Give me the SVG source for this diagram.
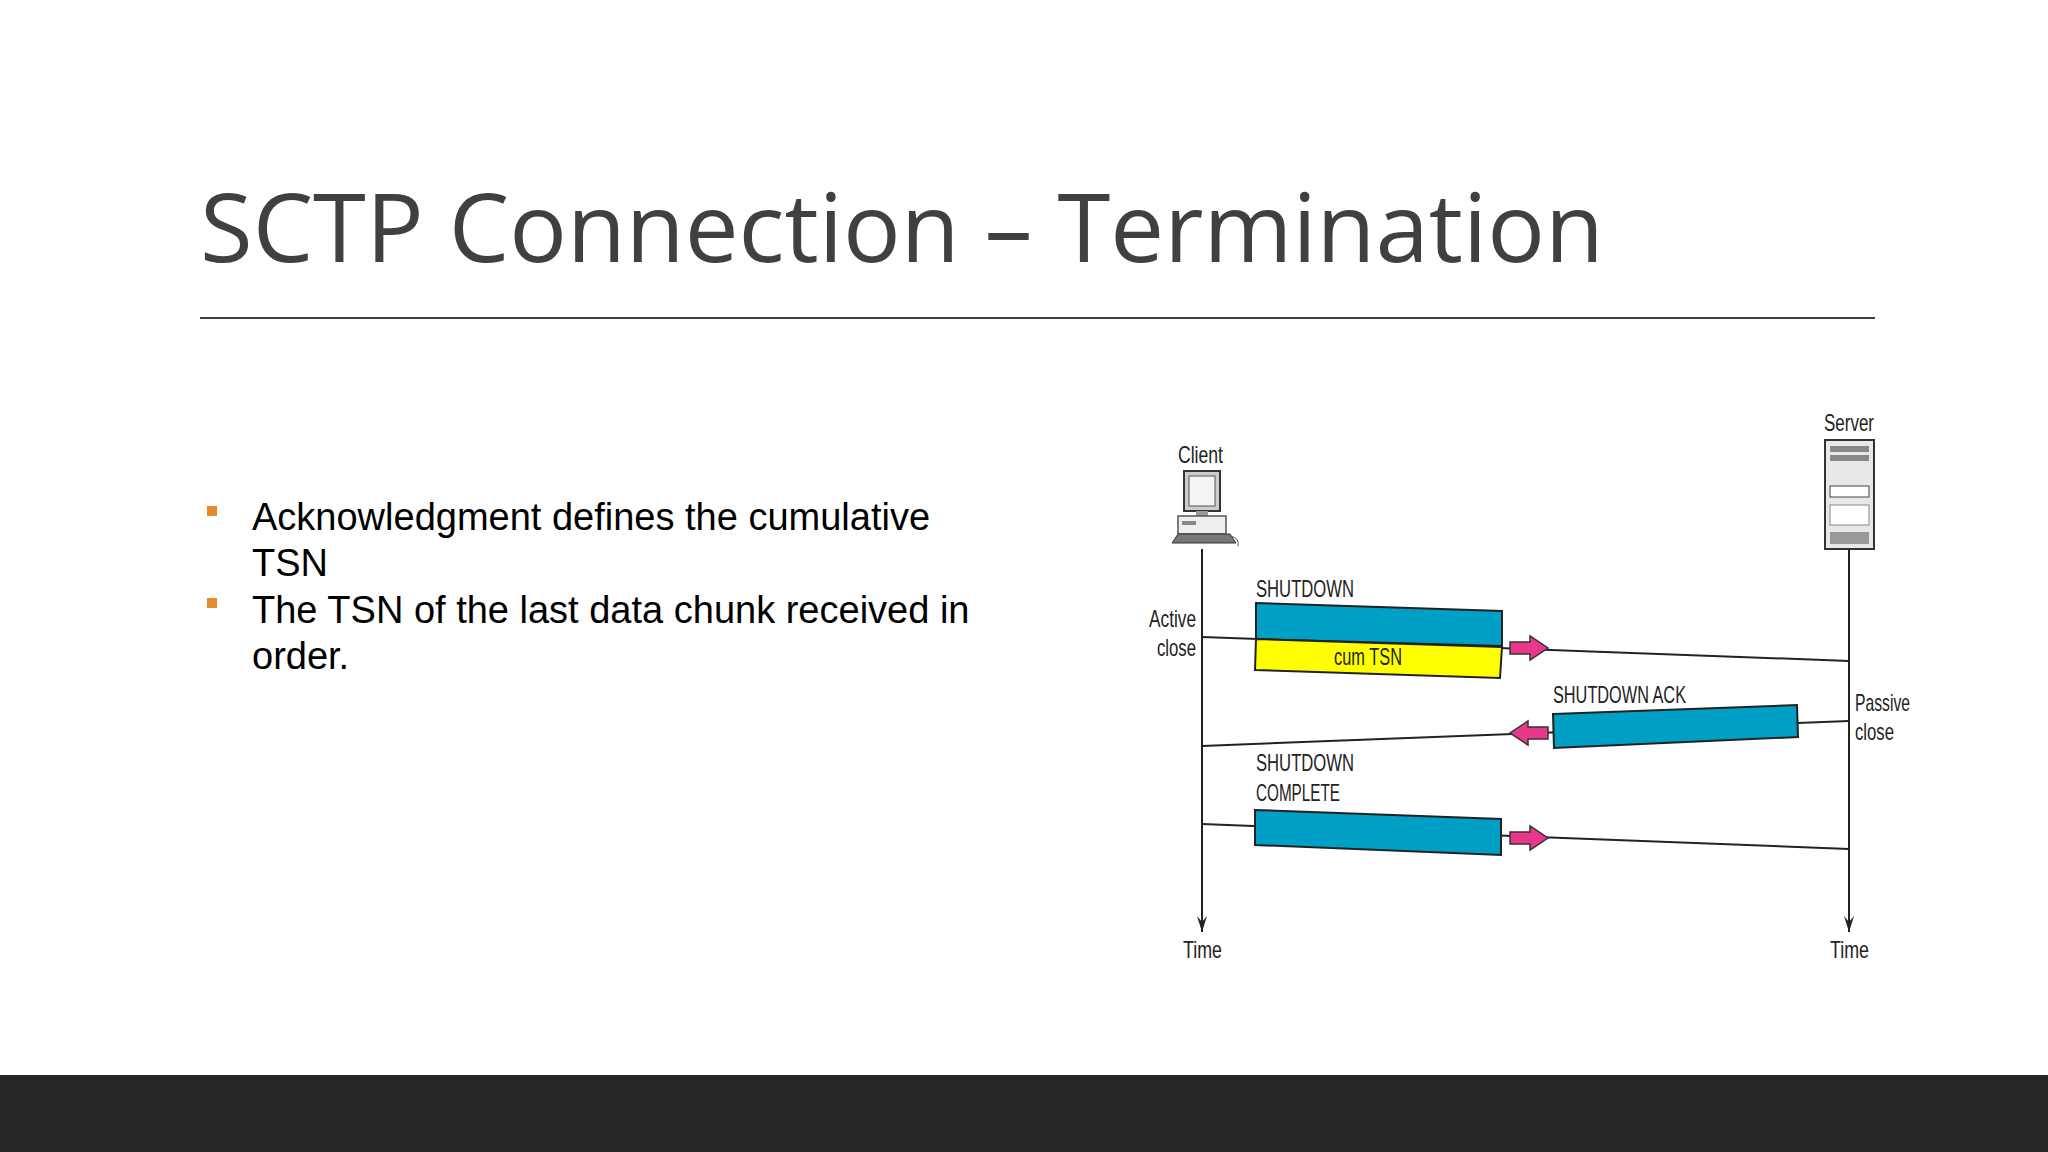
<svg xmlns="http://www.w3.org/2000/svg" width="2048" height="1152" viewBox="0 0 2048 1152">
<defs>
<style>
.t{font-family:"Liberation Sans",Arial,sans-serif;font-size:24px;fill:#222}
.b{font-family:"Liberation Sans",Arial,sans-serif;font-size:38px;fill:#000}
.ln{stroke:#222;stroke-width:2;fill:none}
.box{fill:#00a0c6;stroke:#222;stroke-width:2}
.pk{fill:#e8388c;stroke:#333;stroke-width:1.5}
</style>
<marker id="ah" markerWidth="16" markerHeight="10" refX="16" refY="5" orient="auto" markerUnits="userSpaceOnUse" viewBox="0 0 16 10"><path d="M0,0 L16,5 L0,10 L6,5 Z" fill="#222"/></marker>
</defs>
<rect width="2048" height="1152" fill="#fff"/>
<text x="200" y="262" font-family="'Open Sans',sans-serif" font-size="96" fill="#404040">SCTP Connection – Termination</text>
<line x1="200" y1="318" x2="1875" y2="318" stroke="#404040" stroke-width="2"/>
<rect x="207" y="506" width="10" height="10" fill="#e48a2f"/>
<rect x="207" y="598" width="10" height="10" fill="#e48a2f"/>
<text class="b" x="252" y="530">Acknowledgment defines the cumulative</text>
<text class="b" x="252" y="576">TSN</text>
<text class="b" x="252" y="623">The TSN of the last data chunk received in</text>
<text class="b" x="252" y="669">order.</text>
<rect x="0" y="1075" width="2048" height="77" fill="#262626"/>

<g id="client">
<text class="t" x="1178" y="463" textLength="45" lengthAdjust="spacingAndGlyphs">Client</text>
<rect x="1184" y="471" width="36" height="40" fill="#ccc" stroke="#333" stroke-width="2"/>
<rect x="1189" y="476" width="26" height="30" fill="#f4f4f4" stroke="#555"/>
<rect x="1196" y="511" width="12" height="5" fill="#999"/>
<rect x="1178" y="516" width="48" height="18" fill="#eee" stroke="#555" stroke-width="1.5"/>
<rect x="1182" y="521" width="14" height="4" fill="#888"/>
<path d="M1172,543 L1178,534 L1230,534 L1236,543 Z" fill="#777" stroke="#333"/>
<path d="M1230,536 q10,2 8,10" fill="none" stroke="#555"/>
</g>
<g id="server">
<text class="t" x="1824" y="431" textLength="50" lengthAdjust="spacingAndGlyphs">Server</text>
<rect x="1825" y="440" width="49" height="109" fill="#e8e8e8" stroke="#333" stroke-width="2"/>
<rect x="1830" y="446" width="39" height="6" fill="#888"/>
<rect x="1830" y="455" width="39" height="6" fill="#888"/>
<rect x="1830" y="486" width="39" height="11" fill="#fff" stroke="#444"/>
<rect x="1830" y="505" width="39" height="20" fill="#fff" stroke="#888"/>
<rect x="1830" y="532" width="39" height="12" fill="#999"/>
</g>
<g id="connectors">
<line class="ln" x1="1202" y1="549" x2="1202" y2="932" marker-end="url(#ah)"/>
<line class="ln" x1="1849" y1="549" x2="1849" y2="932" marker-end="url(#ah)"/>
<line class="ln" x1="1202" y1="637" x2="1849" y2="661"/>
<line class="ln" x1="1849" y1="721" x2="1202" y2="746"/>
<line class="ln" x1="1202" y1="824" x2="1849" y2="849"/>
</g>
<g id="shutdown">
<text class="t" x="1256" y="597" textLength="98" lengthAdjust="spacingAndGlyphs">SHUTDOWN</text>
<polygon class="box" points="1256,603 1502,611 1502,646 1256,639"/>
<polygon points="1256,639 1502,647 1500,678 1255,670" fill="#ffff00" stroke="#222" stroke-width="2"/>
<text class="t" x="1334" y="665" textLength="68" lengthAdjust="spacingAndGlyphs">cum TSN</text>
<path class="pk" d="M1510,642 L1530,642 L1530,636 L1548,648 L1530,660 L1530,654 L1510,654 Z"/>
</g>
<g id="ack">
<text class="t" x="1553" y="703" textLength="133" lengthAdjust="spacingAndGlyphs">SHUTDOWN ACK</text>
<polygon class="box" points="1553,714 1797,705 1798,737 1554,748"/>
<path class="pk" d="M1548,727 L1528,727 L1528,721 L1510,733 L1528,745 L1528,739 L1548,739 Z"/>
</g>
<g id="complete">
<text class="t" x="1256" y="771" textLength="98" lengthAdjust="spacingAndGlyphs">SHUTDOWN</text>
<text class="t" x="1256" y="801" textLength="84" lengthAdjust="spacingAndGlyphs">COMPLETE</text>
<polygon class="box" points="1255,810 1501,819 1501,855 1255,845"/>
<path class="pk" d="M1510,832 L1530,832 L1530,826 L1548,838 L1530,850 L1530,844 L1510,844 Z"/>
</g>
<g id="labels">
<text class="t" x="1149" y="627" textLength="47" lengthAdjust="spacingAndGlyphs">Active</text>
<text class="t" x="1157" y="656" textLength="39" lengthAdjust="spacingAndGlyphs">close</text>
<text class="t" x="1855" y="711" textLength="55" lengthAdjust="spacingAndGlyphs">Passive</text>
<text class="t" x="1855" y="740" textLength="39" lengthAdjust="spacingAndGlyphs">close</text>
<text class="t" x="1183" y="958" textLength="39" lengthAdjust="spacingAndGlyphs">Time</text>
<text class="t" x="1830" y="958" textLength="39" lengthAdjust="spacingAndGlyphs">Time</text>
</g>
</svg>
